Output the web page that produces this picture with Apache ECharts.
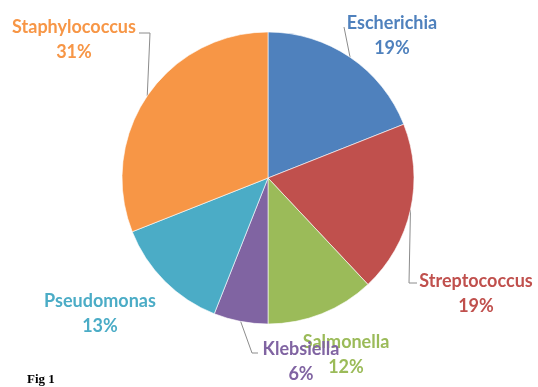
<!DOCTYPE html>
<html>
<head>
<meta charset="utf-8">
<script src="https://cdn.jsdelivr.net/npm/echarts@6/dist/echarts.min.js"></script>
<style>
html,body{margin:0;padding:0;background:#fff;}
#chart{width:538px;height:387px;}
</style>
</head>
<body>
<div id="chart"></div>
<script>
const categories = ['Escherichia', 'Streptococcus', 'Salmonella', 'Klebsiella', 'Pseudomonas', 'Staphylococcus'];
const values = [19, 19, 12, 6, 13, 31];
const colors = ['#4F81BD', '#C0504D', '#9BBB59', '#8064A2', '#4BACC6', '#F79646'];

// label layout (positions of text blocks and leader bends)
const labelCenters = [[392, 36], [476, 294], [346, 355], [301, 362], [100, 314], [74, 40]];
const leaderBends = [
  [[344, 27]],
  [[409, 283], [417, 283]],
  null,
  [[252, 353], [258, 353]],
  null,
  [[150, 33], [139, 33]]
];

const chart = echarts.init(document.getElementById('chart'), null, {renderer: 'canvas'});
const data = categories.map((c, i) => ({
  name: c,
  value: values[i],
  itemStyle: {color: colors[i]},
  label: {color: colors[i]},
  labelLine: {show: leaderBends[i] !== null}
}));

chart.setOption({
  animation: false,
  backgroundColor: '#fff',
  graphic: [{
    type: 'text', left: 27, top: 373,
    style: {text: 'Fig 1', font: 'bold 13px "Liberation Serif", serif', fill: '#000'}
  }],
  series: [{
    type: 'pie',
    center: [268, 178],
    radius: 146,
    startAngle: 90,
    clockwise: true,
    percentPrecision: 0,
    itemStyle: {borderColor: '#fff', borderWidth: 0.6},
    label: {
      show: true,
      formatter: '{b}\n{d}%',
      fontFamily: 'Lato',
      fontWeight: 'bold',
      fontSize: 18,
      lineHeight: 25,
      align: 'center',
      overflow: 'none'
    },
    labelLine: {show: true, lineStyle: {color: '#8c8c8c', width: 1}},
    labelLayout: function (params) {
      const i = params.dataIndex;
      const c = labelCenters[i];
      const res = {x: c[0], y: c[1], align: 'center', verticalAlign: 'middle'};
      if (leaderBends[i] && params.labelLinePoints) {
        res.labelLinePoints = [params.labelLinePoints[0]].concat(leaderBends[i]);
      }
      return res;
    },
    data: data
  }]
});
</script>
</body>
</html>
